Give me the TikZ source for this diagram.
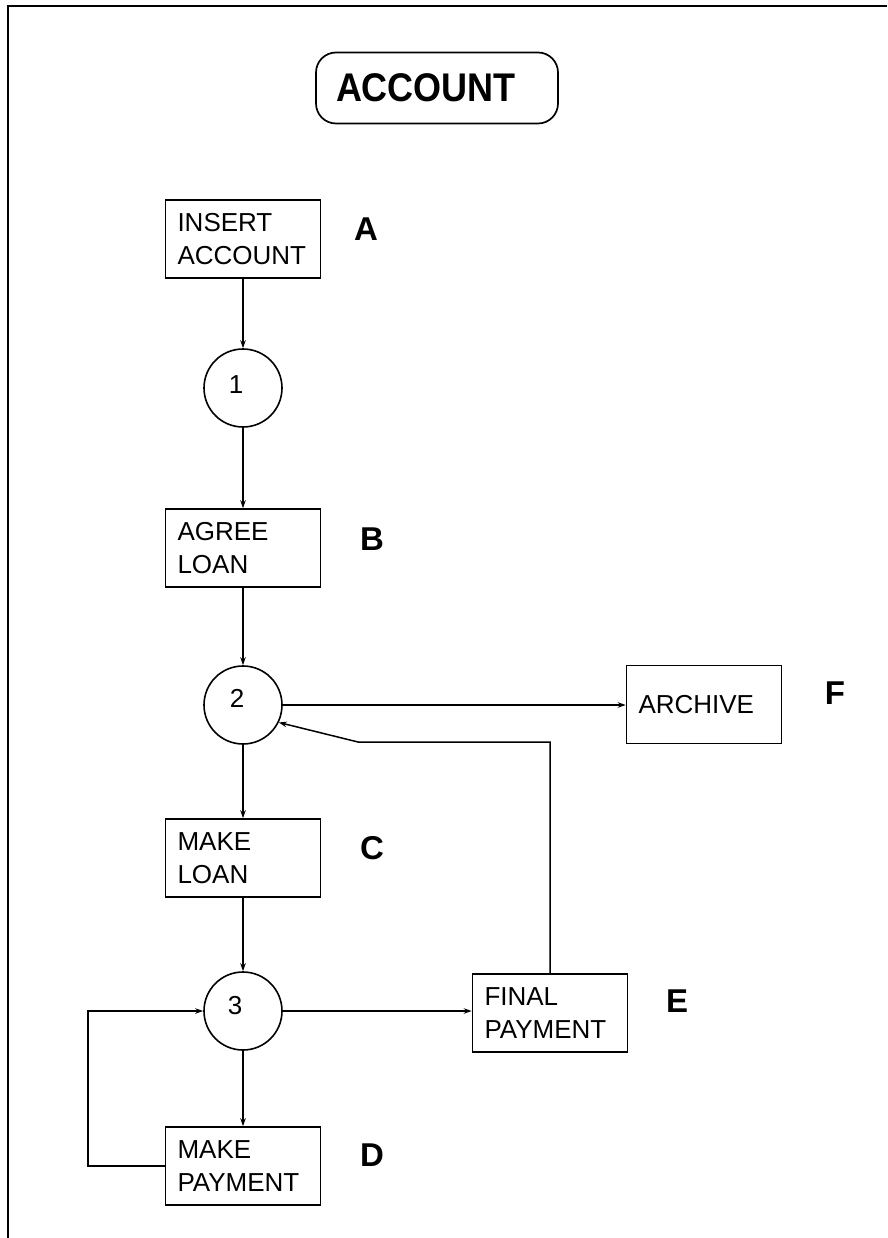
\documentclass[tikz,border=0pt]{standalone}
\usepackage{fontspec}
\setmainfont{Liberation Sans}
\usetikzlibrary{arrows.meta}
\begin{document}
\begin{tikzpicture}[x=1pt,y=-1pt,
  every node/.style={font=\fontsize{26}{33}\selectfont},
  box/.style={draw,line width=1.6pt,minimum width=155pt,minimum height=78pt,
    text width=131pt,inner xsep=12pt,inner ysep=0pt,align=left},
  circ/.style={draw,circle,line width=1.6pt,minimum size=78pt,inner sep=0pt},
  digit/.style={font=\fontsize{26}{26}\selectfont},
  tag/.style={font=\fontsize{33}{33}\selectfont\bfseries},
  arr/.style={line width=1.5pt,-{Stealth[length=8pt,width=5.5pt]}},
  ln/.style={line width=1.5pt}]
\useasboundingbox (0,0) rectangle (887,1238);
% frame
\coordinate (fl) at (8,1238);
\coordinate (ftl) at (8,6);
\coordinate (ftr) at (887,6);
\draw[line width=2pt] (fl) -- (ftl) -- (ftr);
% title
\node[draw,line width=1.7pt,rounded corners=20pt,minimum height=71pt,
  text width=202pt,inner xsep=20pt,align=left,
  font=\fontsize{40}{40}\selectfont\bfseries] (title) at (437,88) {\scalebox{0.9}[1]{ACCOUNT}};
% boxes
\node[box] (ia) at (243,239) {INSERT\\ACCOUNT};
\node[box] (al) at (243,548) {AGREE\\LOAN};
\node[box] (ml) at (243,858) {MAKE\\LOAN};
\node[box] (mp) at (243,1166) {MAKE\\PAYMENT};
\node[box] (fp) at (550,1013) {FINAL\\PAYMENT};
\node[box] (arch) at (704,704.5) {ARCHIVE};
% circles
\node[circ,label={[digit,shift={(-7pt,3pt)}]center:1}] (c1) at (243,388) {};
\node[circ,label={[digit,shift={(-6pt,7pt)}]center:2}] (c2) at (243,705) {};
\node[circ,label={[digit,shift={(-8pt,5pt)}]center:3}] (c3) at (243,1011) {};
% tags
\node[tag] (tA) at (366,229) {A};
\node[tag] (tB) at (372,539) {B};
\node[tag] (tC) at (372,848) {C};
\node[tag] (tD) at (372,1155) {D};
\node[tag] (tE) at (677,1001) {E};
\node[tag] (tF) at (835,693) {F};
% connectors
\draw[arr] (ia.south) -- (c1.north);
\draw[arr] (c1.south) -- (al.north);
\draw[arr] (al.south) -- (c2.north);
\draw[arr] (c2.east) -- (c2.east -| arch.west);
\draw[arr] (c2.south) -- (ml.north);
\draw[arr] (ml.south) -- (c3.north);
\draw[arr] (c3.east) -- (c3.east -| fp.west);
\draw[arr] (c3.south) -- (mp.north);
\coordinate (lp) at (88,1166);
\draw[arr] (mp.west) -- (lp) |- (c3.west);
\coordinate (fbc) at (358,742);
\draw[arr] (fp.north) |- (fbc) -- (c2.-26);
\end{tikzpicture}
\end{document}
